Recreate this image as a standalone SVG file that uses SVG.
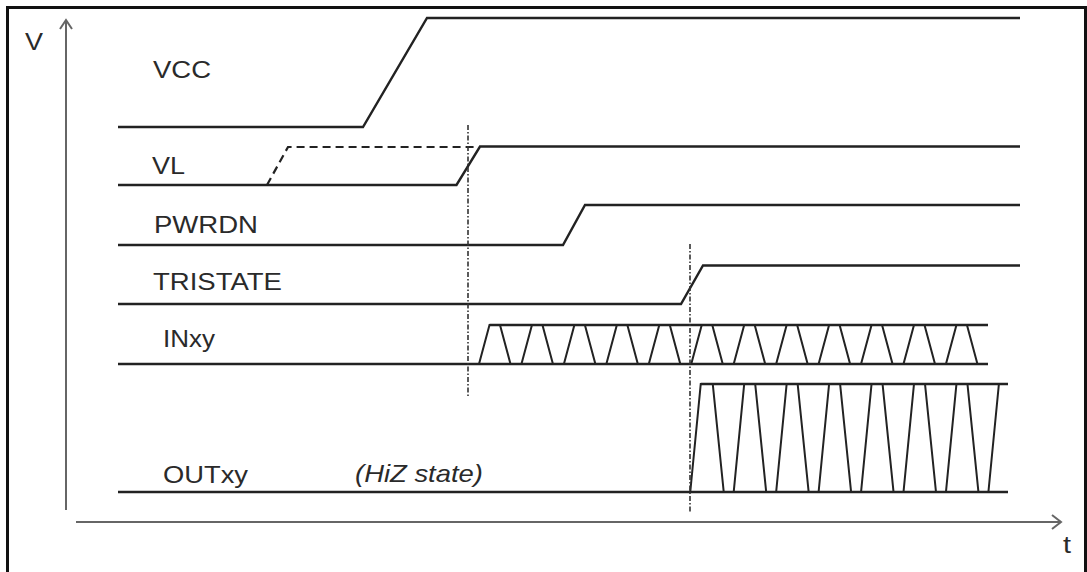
<svg xmlns="http://www.w3.org/2000/svg" width="1087" height="572" viewBox="0 0 1087 572">
<style>
.sig{fill:none;stroke:#222;stroke-width:2.4;stroke-linejoin:miter}
.tri{fill:none;stroke:#222;stroke-width:2}
.dash{fill:none;stroke:#222;stroke-width:2.2;stroke-dasharray:8 5}
.guide{fill:none;stroke:#333;stroke-width:1.6;stroke-dasharray:5 2 1.5 2}
.axis{fill:none;stroke:#666;stroke-width:2}
.lbl{font-family:"Liberation Sans",Arial,sans-serif;font-size:24px;fill:#2a2a2a}
.it{font-style:italic}
</style>
<rect width="1087" height="572" fill="#fff"/>
<path d="M7.5,580 V7.5 H1085.5 V580" fill="none" stroke="#111" stroke-width="3"/>
<g id="axes">
<path class="axis" d="M66,510 V20 M60,29 L66,20 L72,29"/>
<path class="axis" d="M76,522 H1061 M1052,515 L1061,522 L1052,529"/>
<text class="lbl" x="25" y="50" textLength="18" lengthAdjust="spacingAndGlyphs">V</text>
<text class="lbl" x="1063" y="553" textLength="8" lengthAdjust="spacingAndGlyphs">t</text>
</g>
<g id="VCC">
<text class="lbl" x="153" y="78" textLength="58" lengthAdjust="spacingAndGlyphs">VCC</text>
<polyline class="sig" points="118,127 363,127 427,18 1020,18"/>
</g>
<g id="VL">
<text class="lbl" x="152" y="174" textLength="33" lengthAdjust="spacingAndGlyphs">VL</text>
<polyline class="sig" points="118,185 456.5,185 480,146.5 1020,146.5"/>
<polyline class="dash" points="267,185 288,147 476,147"/>
</g>
<g id="PWRDN">
<text class="lbl" x="154" y="233" textLength="104" lengthAdjust="spacingAndGlyphs">PWRDN</text>
<polyline class="sig" points="118,245 563,245 585,205 1020,205"/>
</g>
<g id="TRISTATE">
<text class="lbl" x="153" y="290" textLength="129" lengthAdjust="spacingAndGlyphs">TRISTATE</text>
<polyline class="sig" points="118,304 681,304 703,265.5 1020,265.5"/>
</g>
<g id="INxy">
<text class="lbl" x="163" y="347" textLength="52" lengthAdjust="spacingAndGlyphs">INxy</text>
<path class="sig" d="M118,364 H988 M489.5,325 H988"/>
<polyline class="tri" points="479,364 489.5,325 500,325 510.5,364 521.45,364 531.95,325 542.45,325 552.95,364 563.9,364 574.4,325 584.9,325 595.4,364 606.35,364 616.85,325 627.35,325 637.85,364 648.8,364 659.3,325 669.8,325 680.3,364 691.25,364 701.75,325 712.25,325 722.75,364 733.7,364 744.2,325 754.7,325 765.2,364 776.15,364 786.65,325 797.15,325 807.65,364 818.6,364 829.1,325 839.6,325 850.1,364 861.05,364 871.55,325 882.05,325 892.55,364 903.5,364 914,325 924.5,325 935,364 945.95,364 956.45,325 966.95,325 977.45,364"/>
</g>
<g id="OUTxy">
<text class="lbl" x="163" y="483" textLength="85" lengthAdjust="spacingAndGlyphs">OUTxy</text>
<text class="lbl it" x="355" y="482" textLength="128" lengthAdjust="spacingAndGlyphs">(HiZ state)</text>
<path class="sig" d="M118,492 H1008 M700.75,384 H1008"/>
<polyline class="tri" points="690.25,492 700.75,384 712.75,384 723.75,492 733.7,492 744.2,384 755.2,384 766.2,492 776.15,492 786.65,384 797.65,384 808.65,492 818.6,492 829.1,384 840.1,384 851.1,492 861.05,492 871.55,384 882.55,384 893.55,492 903.5,492 914,384 925,384 936,492 945.95,492 956.45,384 967.45,384 978.45,492 988.4,492 998.9,384"/>
</g>
<g id="connectors">
<line class="guide" x1="468" y1="125" x2="468" y2="396"/>
<line class="guide" x1="690" y1="244" x2="690" y2="513"/>
</g>
</svg>
